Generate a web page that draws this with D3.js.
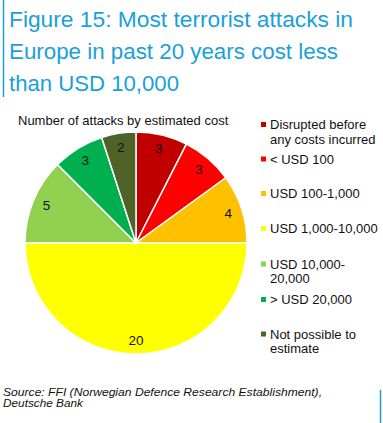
<!DOCTYPE html>
<html>
<head>
<meta charset="utf-8">
<script src="https://cdn.jsdelivr.net/npm/d3@7"></script>
<style>
  html, body { margin: 0; padding: 0; background: #fff; }
  svg { display: block; }
</style>
</head>
<body>
<svg id="chart" width="383" height="423"></svg>
<script>
const titleLines = ["Figure 15: Most terrorist attacks in", "Europe in past 20 years cost less", "than USD 10,000"];
const subtitle = "Number of attacks by estimated cost";
const categories = ["Disrupted before any costs incurred", "< USD 100", "USD 100-1,000", "USD 1,000-10,000", "USD 10,000-20,000", "> USD 20,000", "Not possible to estimate"];
const legendLines = [["Disrupted before", "any costs incurred"], ["< USD 100"], ["USD 100-1,000"], ["USD 1,000-10,000"], ["USD 10,000-", "20,000"], ["> USD 20,000"], ["Not possible to", "estimate"]];
const values = [3, 3, 4, 20, 5, 3, 2];
const colors = ["#C00000", "#FF0000", "#FFC000", "#FFFF00", "#92D050", "#00B050", "#4F6228"];
const sourceLines = ["Source: FFI (Norwegian Defence Research Establishment),", "Deutsche Bank"];

const svg = d3.select("#chart");
const blue = "#1A9FDB";
const font = "'Liberation Sans', Arial, sans-serif";

// left accent line
svg.append("line").attr("x1", 3.5).attr("x2", 3.5).attr("y1", 0).attr("y2", 97)
  .attr("stroke", blue).attr("stroke-width", 1.5);
// right accent line bottom
svg.append("line").attr("x1", 380.5).attr("x2", 380.5).attr("y1", 390).attr("y2", 423)
  .attr("stroke", blue).attr("stroke-width", 1.5);

// title
const titleWidths = [344, 329, 170];
svg.append("g").selectAll("text").data(titleLines).join("text")
  .attr("x", 9).attr("y", (d, i) => 26.5 + i * 32)
  .attr("font-family", font).attr("font-size", 21.5).attr("fill", blue)
  .attr("textLength", (d, i) => titleWidths[i]).attr("lengthAdjust", "spacingAndGlyphs")
  .text(d => d);

// subtitle
svg.append("text").attr("x", 18).attr("y", 125)
  .attr("font-family", font).attr("font-size", 13).attr("fill", "#111")
  .text(subtitle);

// pie
const cx = 136, cy = 243, r = 111;
const pie = d3.pie().sort(null).value(d => d)(values);
const arc = d3.arc().innerRadius(0).outerRadius(r);
const labelArc = d3.arc().innerRadius(97).outerRadius(97);
const g = svg.append("g").attr("transform", `translate(${cx},${cy})`);
g.selectAll("path").data(pie).join("path")
  .attr("d", arc)
  .attr("fill", (d, i) => colors[i])
  .attr("stroke", "#fff").attr("stroke-width", 1.5);
g.selectAll("text").data(pie).join("text")
  .attr("transform", d => `translate(${labelArc.centroid(d)})`)
  .attr("text-anchor", "middle").attr("dominant-baseline", "central")
  .attr("font-family", font).attr("font-size", 13.5).attr("fill", "#111")
  .text(d => d.data);

// legend
const legendY = [124.5, 159, 193.5, 228.5, 264, 299.5, 334];
const lg = svg.append("g");
categories.forEach((c, i) => {
  const item = lg.append("g").attr("transform", `translate(0,${legendY[i]})`);
  item.append("rect").attr("x", 261).attr("y", -2.5).attr("width", 5).attr("height", 5)
    .attr("fill", colors[i]);
  item.selectAll("text").data(legendLines[i]).join("text")
    .attr("x", 270).attr("y", (d, j) => j * 14.5)
    .attr("dominant-baseline", "central")
    .attr("font-family", font).attr("font-size", 13).attr("fill", "#111")
    .text(d => d);
});

// source
const sourceWidths = [319, 80];
svg.append("g").selectAll("text").data(sourceLines).join("text")
  .attr("x", 3).attr("y", (d, i) => 396 + i * 10.5)
  .attr("font-family", font).attr("font-size", 11.5).attr("font-style", "italic").attr("fill", "#111")
  .attr("textLength", (d, i) => sourceWidths[i]).attr("lengthAdjust", "spacingAndGlyphs")
  .text(d => d);
</script>
</body>
</html>
